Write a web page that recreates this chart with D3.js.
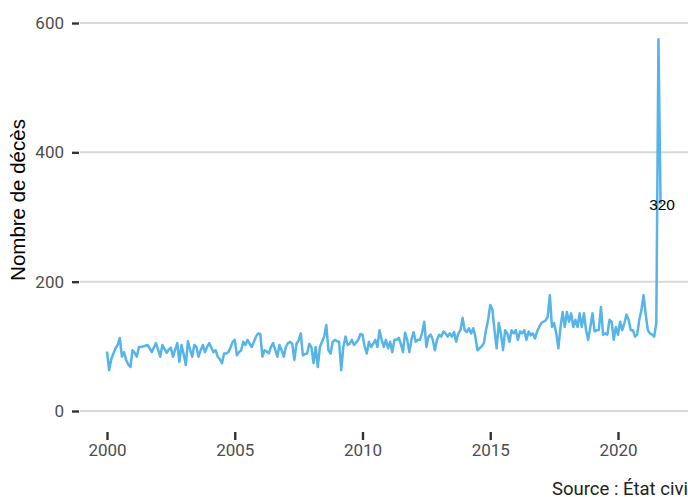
<!DOCTYPE html>
<html>
<head>
<meta charset="utf-8">
<script src="https://cdn.jsdelivr.net/npm/d3@7"></script>
<style>
  body { margin: 0; background: #fff; }
  svg { display: block; }
</style>
</head>
<body>
<div id="chart"></div>
<script>
// Data: monthly deaths, January 2000 to September 2021
// ==============================================================================
var startYear = 2000;

var deaths2000s = [
  92, 63, 80, 89, 97, 102, 113, 84, 91, 79, 72, 68,      // 2000
  94, 90, 84, 99, 99, 100, 101, 102, 97, 91, 98, 105,    // 2001
  95, 84, 102, 96, 90, 95, 98, 84, 95, 105, 76, 102,     // 2002
  88, 71, 108, 95, 84, 102, 99, 84, 94, 102, 91, 99,     // 2003
  105, 98, 91, 94, 84, 80, 74, 89, 89, 91, 98, 107,      // 2004
  110, 86, 91, 94, 107, 102, 110, 104, 99, 107, 115, 120, // 2005
  119, 84, 94, 92, 89, 99, 105, 95, 84, 102, 94, 84,     // 2006
  99, 105, 107, 104, 79, 104, 109, 120, 86, 88, 89, 104, // 2007
  99, 74, 99, 68, 99, 107, 115, 133, 94, 89, 107, 110,   // 2008
  108, 107, 63, 99, 115, 102, 104, 110, 102, 106, 110, 119 // 2009
];

var deaths2010s = [
  118, 100, 89, 107, 99, 104, 110, 99, 125, 110, 99, 110,   // 2010
  97, 107, 91, 110, 110, 113, 104, 91, 121, 110, 91, 110,   // 2011
  122, 107, 110, 110, 121, 138, 99, 115, 118, 110, 94, 110, // 2012
  118, 115, 123, 120, 115, 120, 115, 122, 107, 120, 125, 144, // 2013
  125, 122, 128, 120, 128, 115, 94, 97, 100, 105, 125, 141, // 2014
  164, 157, 125, 97, 136, 120, 94, 125, 120, 107, 125, 120, // 2015
  125, 110, 123, 120, 125, 110, 123, 117, 120, 112, 123, 130, // 2016
  136, 138, 140, 146, 179, 130, 136, 120, 97, 130, 153, 130, // 2017
  153, 138, 151, 130, 141, 130, 151, 130, 151, 125, 110, 130, // 2018
  151, 123, 125, 125, 161, 118, 120, 118, 141, 138, 110, 130  // 2019
];

var deaths2020s = [
  118, 138, 125, 136, 149, 141, 125, 125, 115, 118, 141, 156, // 2020
  179, 150, 125, 120, 118, 115, 136, 575, 320                 // 2021
];

var xTicks = [2000, 2005, 2010, 2015, 2020];
var yTicks = [0, 200, 400, 600];
var yTitle = "Nombre de décès";
var caption = "Source : État civil";

var deaths = deaths2000s.concat(deaths2010s, deaths2020s);
var series = deaths.map(function(v, i) {
  return { t: startYear + i / 12, v: v };
});
var last = series[series.length - 1];

// Canvas
// ==============================================================================
var svgWidth = 688;
var svgHeight = 497;

var svg = d3.select("#chart")
  .append("svg")
  .attr("width", svgWidth)
  .attr("height", svgHeight);

var panelLeft = 80, panelRight = 688;

// Scales
// ==============================================================================
var xScale = d3.scaleLinear()
  .domain([1998.943, 2022.74])
  .range([panelLeft, panelRight]);

var yScale = d3.scaleLinear()
  .domain([0, 600])
  .range([411, 23]);

// Gridlines (horizontal only)
// ==============================================================================
svg.append("g")
  .selectAll("line")
  .data(yTicks)
  .enter()
  .append("line")
  .attr("x1", panelLeft)
  .attr("x2", panelRight)
  .attr("y1", d => yScale(d))
  .attr("y2", d => yScale(d))
  .attr("stroke", "#d9d9d9")
  .attr("stroke-width", 2);

// Axes
// ==============================================================================
var leftAxis = d3.axisLeft(yScale)
  .tickValues(yTicks)
  .tickSize(7)
  .tickPadding(8);

var yAxisG = svg.append("g")
  .attr("transform", `translate(${panelLeft - 1}, 0)`)
  .call(leftAxis);
yAxisG.select(".domain").remove();
yAxisG.selectAll(".tick line").attr("stroke", "#333").attr("stroke-width", 2.4);
yAxisG.selectAll(".tick text")
  .attr("fill", "#4d4d4d")
  .style("font-family", "Roboto")
  .style("font-size", "17px");

var bottomAxis = d3.axisBottom(xScale)
  .tickValues(xTicks)
  .tickFormat(d3.format("d"))
  .tickSize(8)
  .tickPadding(4);

var xAxisG = svg.append("g")
  .attr("transform", "translate(0, 432)")
  .call(bottomAxis);
xAxisG.select(".domain").remove();
xAxisG.selectAll(".tick line").attr("stroke", "#333").attr("stroke-width", 2.4);
xAxisG.selectAll(".tick text")
  .attr("fill", "#4d4d4d")
  .style("font-family", "Roboto")
  .style("font-size", "17px");

// Line
// ==============================================================================
var lineGen = d3.line()
  .x(d => xScale(d.t))
  .y(d => yScale(d.v));

svg.append("path")
  .datum(series)
  .attr("d", lineGen)
  .attr("fill", "none")
  .attr("stroke", "#56B4E9")
  .attr("stroke-width", 2.5)
  .attr("stroke-linejoin", "round");

// Label on last value
// ==============================================================================
svg.append("text")
  .attr("x", xScale(last.t) + 1.5)
  .attr("y", yScale(last.v))
  .attr("dy", "0.36em")
  .attr("text-anchor", "middle")
  .style("font-family", "Liberation Sans, Arial, sans-serif")
  .style("font-size", "15.5px")
  .attr("fill", "#000")
  .text(last.v);

// Axis title and caption
// ==============================================================================
svg.append("text")
  .attr("transform", "translate(25, 200) rotate(-90)")
  .attr("text-anchor", "middle")
  .style("font-family", "Liberation Sans, Arial, sans-serif")
  .style("font-size", "20.5px")
  .attr("fill", "#000")
  .text(yTitle);

svg.append("text")
  .attr("x", 552)
  .attr("y", 495)
  .style("font-family", "Roboto")
  .style("font-size", "18.5px")
  .attr("fill", "#222")
  .text(caption);
</script>
</body>
</html>
